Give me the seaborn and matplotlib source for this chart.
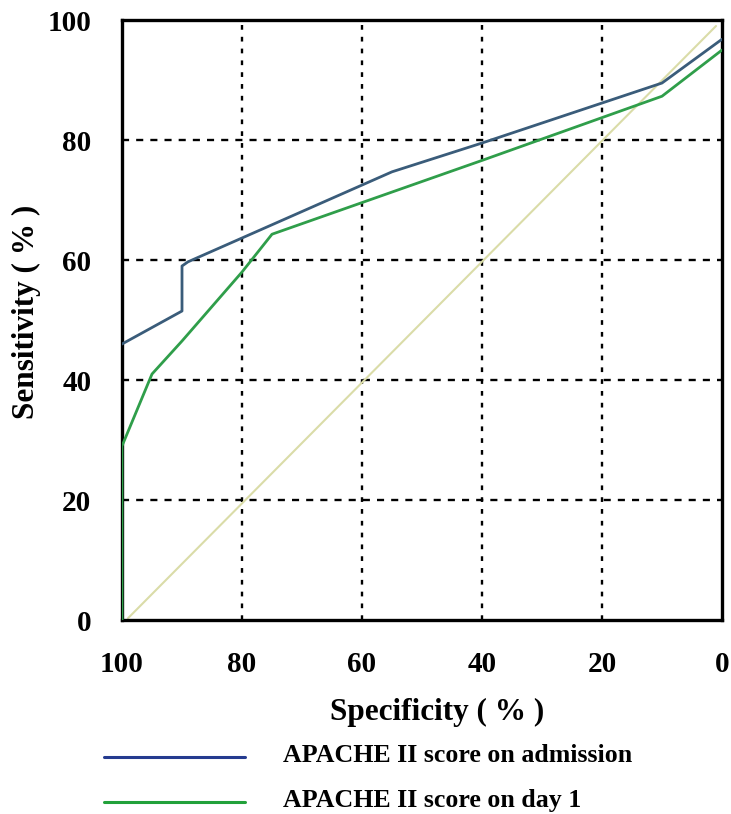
import pandas as pd
import matplotlib.pyplot as plt
import seaborn as sns
from matplotlib.lines import Line2D

# ROC curve points (specificity %, sensitivity %)
spec_admission = [100, 90, 90, 89, 55, 40, 10, 0]
sens_admission = [46, 51.5, 59, 59.7, 74.7, 79.5, 89.5, 96.8]

spec_day1 = [100, 100, 95, 90, 80, 75, 40, 10, 0]
sens_day1 = [0, 29, 41, 46.5, 58, 64.3, 76.6, 87.3, 95]

spec_ref = [99, 1]
sens_ref = [0.3, 99]

tick_values = [0, 20, 40, 60, 80, 100]

label_admission = 'APACHE II score on admission'
label_day1 = 'APACHE II score on day 1'

df_adm = pd.DataFrame({'spec': spec_admission, 'sens': sens_admission})
df_d1 = pd.DataFrame({'spec': spec_day1, 'sens': sens_day1})
df_ref = pd.DataFrame({'spec': spec_ref, 'sens': sens_ref})

sns.set_style('white')
plt.rcParams['font.family'] = ['Liberation Serif', 'DejaVu Serif']
plt.rcParams['font.weight'] = 'bold'
plt.rcParams['text.color'] = 'black'
plt.rcParams['axes.labelcolor'] = 'black'
plt.rcParams['xtick.color'] = 'black'
plt.rcParams['ytick.color'] = 'black'

fig = plt.figure(figsize=(7.31, 8.14), dpi=100)
ax = fig.add_axes([0.1669, 0.2383, 0.8208, 0.7371])

# grid
for v in [20, 40, 60, 80]:
    ax.axhline(v, color='black', lw=1.7, ls=(0, (3, 3)), zorder=1)
    ax.axvline(v, color='black', lw=1.7, ls=(0, (2, 3)), zorder=1)

sns.lineplot(data=df_ref, x='spec', y='sens', color='#dadca8', lw=1.5, ax=ax,
             sort=False, estimator=None, zorder=2)
sns.lineplot(data=df_adm, x='spec', y='sens', color='#3a5c7a', lw=2, ax=ax,
             sort=False, estimator=None, zorder=3)
sns.lineplot(data=df_d1, x='spec', y='sens', color='#2f9e4a', lw=2, ax=ax,
             sort=False, estimator=None, zorder=3)

ax.set_xlim(100, 0)
ax.set_ylim(0, 100)
ax.set_xticks(tick_values)
ax.set_yticks(tick_values)
ax.tick_params(axis='both', direction='out', length=14, width=2.2, color='black',
               labelcolor='black', labelsize=21, pad=8)
for lab in ax.get_xticklabels() + ax.get_yticklabels():
    lab.set_fontweight('bold')
for sp in ax.spines.values():
    sp.set_visible(True)
    sp.set_color('black')
    sp.set_linewidth(2.4)

ax.set_xlabel('Specificity ( % )', fontsize=22.5, fontweight='bold')
ax.set_ylabel('Sensitivity ( % )', fontsize=22.5, fontweight='bold')
ax.xaxis.set_label_coords(0.525, -0.13)
ax.yaxis.set_label_coords(-0.135, 0.513)

# legend drawn below the axes
fig.add_artist(Line2D([104 / 731, 245 / 731], [1 - 757 / 814, 1 - 757 / 814],
                      color='#243b8f', lw=2.2))
fig.add_artist(Line2D([104 / 731, 245 / 731], [1 - 802 / 814, 1 - 802 / 814],
                      color='#22a13a', lw=2.2))
fig.text(283 / 731, 1 - 755 / 814, label_admission, fontsize=18.6, fontweight='bold',
         va='center', ha='left')
fig.text(283 / 731, 1 - 800 / 814, label_day1, fontsize=18.6, fontweight='bold',
         va='center', ha='left')

fig.savefig('out.png', dpi=100)
